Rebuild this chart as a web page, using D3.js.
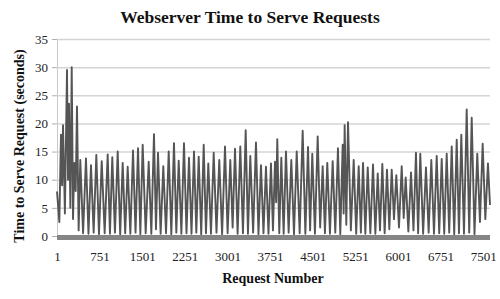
<!DOCTYPE html>
<html>
<head>
<meta charset="utf-8">
<script src="https://cdn.jsdelivr.net/npm/d3@7"></script>
<style>
  body { margin: 0; background: #fff; }
  text { font-family: "Liberation Serif", "Times New Roman", serif; }
</style>
</head>
<body>
<div id="chart"></div>
<script>
// request number / seconds (peak, trough, peak, ...)
const serveTimes = [
  [1, 7.9], [42, 2.5], [71, 18], [90, 9], [107, 19.7], [140, 4], [177, 29.5], [195, 10],
  [212, 23.5], [236, 5], [260, 30], [283, 3], [305, 13], [330, 8], [353, 23], [382, 1],
  [411, 13.5], [460, 0.5], [511, 13.8], [555, 0.4], [599, 12.6], [646, 0.6], [693, 14.4], [740, 0.3],
  [788, 13.3], [840, 0.5], [893, 14.5], [933, 0.4], [974, 14], [1021, 0.6], [1069, 15], [1113, 0.3],
  [1157, 13], [1201, 0.5], [1245, 12.3], [1292, 0.4], [1339, 15.2], [1383, 0.6], [1427, 15.6], [1468, 0.3],
  [1509, 16.2], [1562, 0.5], [1615, 13.2], [1661, 0.4], [1708, 18.1], [1743, 1.2], [1779, 14.8], [1825, 0.4],
  [1872, 12.4], [1920, 0.5], [1967, 15], [2013, 0.3], [2060, 16.5], [2101, 0.6], [2143, 13.4], [2190, 0.4],
  [2236, 16.5], [2280, 0.5], [2324, 13.9], [2368, 0.4], [2412, 15], [2453, 0.6], [2495, 14.1], [2539, 0.3],
  [2583, 16.2], [2623, 0.5], [2664, 12.9], [2711, 0.4], [2759, 14.8], [2808, 0.6], [2857, 13.5], [2907, 0.3],
  [2958, 15.9], [3004, 0.5], [3051, 13.5], [3092, 1.5], [3134, 15.5], [3180, 0.4], [3227, 15.9], [3274, 0.5],
  [3322, 18.8], [3362, 0.4], [3403, 14.2], [3453, 0.6], [3503, 16.6], [3547, 0.3], [3591, 12.6], [3635, 0.5],
  [3679, 12.3], [3723, 0.4], [3767, 12.9], [3802, 1], [3838, 13.2], [3858, 6], [3878, 17.2], [3913, 0.5],
  [3949, 13.9], [3990, 0.4], [4031, 15], [4078, 0.6], [4125, 13.5], [4172, 0.3], [4220, 15], [4272, 0.5],
  [4325, 18.7], [4372, 0.4], [4419, 15.8], [4456, 1], [4494, 14.6], [4541, 0.4], [4589, 17.7], [4633, 1.5],
  [4677, 12.4], [4717, 0.5], [4758, 13], [4805, 0.4], [4853, 13.3], [4899, 0.6], [4946, 15.6], [4987, 0.3],
  [5029, 16.2], [5046, 4], [5064, 19.7], [5093, 2], [5123, 20.2], [5173, 1], [5223, 13.5], [5267, 0.4],
  [5311, 12.4], [5349, 0.6], [5387, 13], [5428, 0.4], [5470, 12.2], [5516, 0.5], [5563, 12.7], [5604, 0.4],
  [5646, 11.1], [5686, 1], [5727, 12.8], [5768, 0.5], [5809, 11.8], [5850, 1.2], [5892, 11.8], [5932, 3],
  [5973, 10.8], [6020, 1.5], [6068, 12.4], [6103, 3.2], [6138, 10.4], [6185, 0.8], [6232, 11.3], [6275, 1],
  [6319, 14.8], [6357, 0.5], [6395, 14.6], [6445, 0.4], [6495, 12.2], [6542, 0.6], [6589, 13.5], [6636, 0.4],
  [6684, 14.2], [6728, 0.5], [6772, 13.7], [6816, 0.4], [6860, 14.6], [6904, 0.6], [6948, 15.9], [6992, 0.3],
  [7036, 17.1], [7076, 0.5], [7117, 18], [7164, 0.4], [7212, 22.5], [7256, 0.6], [7300, 21], [7349, 0.3],
  [7398, 14.6], [7445, 2.5], [7493, 16.4], [7540, 3], [7586, 12.9], [7622, 5.5]
]
const baseline = [[1, 0], [7622, 0]]
const xTicks = [1, 751, 1501, 2251, 3001, 3751, 4501, 5251, 6001, 6751, 7501]
const yTicks = [0, 5, 10, 15, 20, 25, 30, 35]

const width = 500, height = 299
const margin = {top: 39, right: 10, bottom: 63, left: 57}

const svg = d3.select('#chart').append('svg')
  .attr('width', width)
  .attr('height', height)

const x = d3.scaleLinear()
  .domain([1, 7622])
  .range([margin.left, width - margin.right])
const y = d3.scaleLinear()
  .domain([0, 35])
  .range([height - margin.bottom, margin.top])

// gridlines + y ticks
const yAxis = d3.axisLeft(y)
  .tickValues(yTicks)
  .tickSize(-(width - margin.left - margin.right))
  .tickPadding(9)
const gy = svg.append('g')
  .attr('transform', `translate(${margin.left},0)`)
  .call(yAxis)
gy.select('.domain').attr('stroke', '#c8c8c8')
gy.selectAll('.tick line').attr('stroke', '#d4d4d4').attr('stroke-width', 1.5)
gy.selectAll('.tick').append('line')
  .attr('x1', -5).attr('x2', 0)
  .attr('stroke', '#b0b0b0')
gy.selectAll('.tick text')
  .style('font-size', '13px')
  .style('font-family', '"Liberation Serif", serif')
  .attr('fill', '#222')

// x labels
const xAxis = d3.axisBottom(x)
  .tickValues(xTicks)
  .tickSize(0)
  .tickPadding(16)
  .tickFormat(d3.format('d'))
const gx = svg.append('g')
  .attr('transform', `translate(0,${height - margin.bottom})`)
  .call(xAxis)
gx.select('.domain').remove()
gx.selectAll('.tick text')
  .style('font-size', '13px')
  .style('font-family', '"Liberation Serif", serif')
  .attr('fill', '#222')

const line = d3.line()
  .x(d => x(d[0]))
  .y(d => y(d[1]))

svg.append('path')
  .datum(serveTimes)
  .attr('fill', 'none')
  .attr('stroke', '#555')
  .attr('stroke-width', 1.9)
  .attr('stroke-linejoin', 'round')
  .attr('d', line)

// flat series along zero
svg.append('path')
  .datum(baseline)
  .attr('fill', 'none')
  .attr('stroke', '#858585')
  .attr('stroke-width', 5)
  .attr('transform', 'translate(0,1.5)')
  .attr('d', line)

// titles
svg.append('text')
  .attr('x', 250).attr('y', 23)
  .attr('text-anchor', 'middle')
  .attr('font-weight', 'bold')
  .attr('font-size', 17.5)
  .attr('fill', '#111')
  .text('Webserver Time to Serve Requests')

svg.append('text')
  .attr('x', 273).attr('y', 283)
  .attr('text-anchor', 'middle')
  .attr('font-weight', 'bold')
  .attr('font-size', 14)
  .attr('fill', '#111')
  .text('Request Number')

svg.append('text')
  .attr('transform', 'translate(24,146) rotate(-90)')
  .attr('text-anchor', 'middle')
  .attr('font-weight', 'bold')
  .attr('font-size', 14)
  .attr('fill', '#111')
  .text('Time to Serve Request (seconds)')
</script>
</body>
</html>
